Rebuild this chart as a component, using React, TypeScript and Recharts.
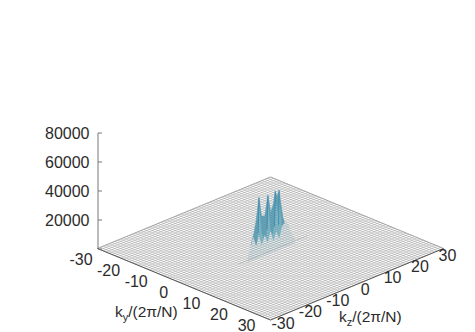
import React from "react";
import { ComposedChart, XAxis, YAxis, Line, Area, Scatter } from "recharts";

const W = 475;
const H = 332;

// Axis ticks
const kTicks = [-30, -20, -10, 0, 10, 20, 30];
const countTicks = [0, 20000, 40000, 60000, 80000];
const yTitle = "y";
const zTitle = "z";

// Mesh lines of the flat floor
const meshK = [
  -30, -29, -28, -27, -26, -25, -24, -23, -22, -21, -20, -19, -18, -17, -16, -15, -14, -13, -12, -11, -10,
  -9, -8, -7, -6, -5, -4, -3, -2, -1, 0, 1, 2, 3, 4, 5, 6, 7, 8, 9, 10, 11, 12, 13, 14, 15, 16, 17, 18, 19,
  20, 21, 22, 23, 24, 25, 26, 27, 28, 29, 30,
];

// Peak silhouette along k_y = 0
const ridgeKz = [-6.8, -5.8, -5, -4, -3.1, -2, -0.9, 0.1, 1, 1.6, 2.3, 2.95, 3.6, 4.3, 5.4, 6.6];
const ridgeCount = [8000, 15000, 23000, 38800, 25000, 24000, 37700, 25000, 30000, 38400, 34000, 38000, 28000, 18000, 10000, 4000];

// Lighter inner faces
const faceKz = [-4.6, -3.9, -3.1, -2.4, -1.4, -0.7, 0, 0.9, 1.9, 2.5, 3.1, 3.8, 4.6];
const faceCount = [9000, 32000, 14000, 9000, 10000, 31000, 12000, 9000, 30000, 22000, 30000, 14000, 7000];

// Dark streaks: [kz, count] pairs
const darkKz = [-4.3, -4.0, -1.2, -0.9, 1.4, 1.7, 2.8, 3.0];
const darkCount = [14000, 38000, 14000, 37000, 14000, 38000, 14000, 37500];

// Pale foot of the peaks
const footKz = [-8, -7, -6, -5, -4, -3, -2, -1, 0, 1, 2, 3, 4, 5, 6, 7, 8.4];
const footCount = [0, 6000, 13000, 6000, 12000, 5000, 11000, 5000, 12000, 4500, 10000, 4500, 12000, 14000, 13000, 6000, 0];

// Faint ridge line on the floor
const streakKz = [-12, 12];
const streakCount = [0, 0];

// Projection of the plot box into the picture
const cx = 270.5;
const cy = 248.5;
const halfW = 173;
const halfH = 71.5;
const zPx = 116 / 80000;

const sxOf = (ky: number, kz: number) => cx + ((ky + kz) / 60) * halfW;
const syOf = (ky: number, kz: number) => cy + ((ky - kz) / 60) * halfH;
const vOfY = (py: number) => (249 - py) / zPx;
const pt = (ky: number, kz: number, c = 0) => ({ sx: sxOf(ky, kz), v: vOfY(syOf(ky, kz)) + c });

const yDomain: [number, number] = [vOfY(H), vOfY(0)];

const FONT = "'Liberation Sans', Arial, sans-serif";
const TXT = "#2b2b2b";

const CountTick = (p: any) => {
  const val = p.payload.value;
  return (
    <g>
      <line x1={98} x2={102} y1={p.y} y2={p.y} stroke="#777" strokeWidth={1} />
      {val > 0 && (
        <text x={89.5} y={p.y + 5.5} textAnchor="end" fontFamily={FONT} fontSize={16} fill={TXT}>
          {val}
        </text>
      )}
    </g>
  );
};

const kyLabels = kTicks.map((k) => ({ sx: 81 + (k + 30) * 2.76, v: vOfY(259 + (k + 30) * 1.1), label: String(k) }));
const kzLabels = kTicks.map((k) => ({ sx: 283 + (k + 30) * 2.74, v: vOfY(323 - (k + 30) * 1.13), label: String(k) }));

const TickText = (p: any) => (
  <text x={p.cx} y={p.cy + 5.5} textAnchor="middle" fontFamily={FONT} fontSize={16} fill={TXT}>
    {p.payload.label}
  </text>
);

const titleShape = (sub: string) => (p: any) => (
  <text x={p.cx} y={p.cy} fontFamily={FONT} fontSize={15.5} fill={TXT}>
    k
    <tspan fontSize={11} dy={4}>{sub}</tspan>
    <tspan dy={-4}>/(2π/N)</tspan>
  </text>
);

const hollow = (kz: number[], count: number[], front: number) =>
  kz.map((z, i) => {
    const top = pt(0, z, count[i]);
    const bottom = pt(front, z);
    return { sx: top.sx, v: [bottom.v, top.v] };
  });

export default function App() {
  const corners = [pt(-30, -30), pt(30, -30), pt(30, 30)];
  const back = [pt(-30, -30), pt(-30, 30), pt(30, 30)];
  return (
    <div style={{ position: "absolute", left: 0, top: 0, width: W, height: H }}>
      <ComposedChart width={W} height={H} margin={{ top: 0, right: 0, bottom: 0, left: 0 }}>
        <XAxis type="number" dataKey="sx" domain={[1, W]} hide allowDataOverflow />
        <YAxis
          type="number"
          dataKey="v"
          domain={yDomain}
          ticks={countTicks}
          width={1}
          axisLine={false}
          tickLine={false}
          tick={CountTick}
          interval={0}
          allowDataOverflow
        />

        {meshK.map((k) => (
          <Line key={"a" + k} data={[pt(k, -30), pt(k, 30)]} dataKey="v" stroke="#777" strokeOpacity={0.36} strokeWidth={1} dot={false} isAnimationActive={false} legendType="none" />
        ))}
        {meshK.map((k) => (
          <Line key={"b" + k} data={[pt(-30, k), pt(30, k)]} dataKey="v" stroke="#777" strokeOpacity={0.36} strokeWidth={1} dot={false} isAnimationActive={false} legendType="none" />
        ))}

        <Line data={back} dataKey="v" stroke="#999" strokeWidth={0.7} dot={false} isAnimationActive={false} />
        <Line data={corners} dataKey="v" stroke="#555" strokeWidth={1} dot={false} isAnimationActive={false} />
        <Line data={[{ sx: 98, v: 0 }, { sx: 98, v: 80000 }]} dataKey="v" stroke="#777" strokeWidth={1} dot={false} isAnimationActive={false} />

        <Line data={streakKz.map((z, i) => pt(1, z, streakCount[i]))} dataKey="v" stroke="#aaa" strokeWidth={0.6} dot={false} isAnimationActive={false} />

        <Area data={hollow(ridgeKz, ridgeCount, 1)} dataKey="v" type="linear" stroke="#5aafcc" strokeWidth={0.5} fill="#5aafcc" fillOpacity={1} dot={false} isAnimationActive={false} />
        <Area data={hollow(faceKz, faceCount, 1)} dataKey="v" type="linear" stroke="none" fill="#7fc8dd" fillOpacity={1} dot={false} isAnimationActive={false} />
        {[0, 2, 4, 6].map((i) => (
          <Line key={"d" + i} data={[pt(0, darkKz[i], darkCount[i]), pt(0, darkKz[i + 1], darkCount[i + 1])]} dataKey="v" stroke="#3f8fb0" strokeWidth={1} dot={false} isAnimationActive={false} />
        ))}
        <Area data={hollow(footKz, footCount, 4)} dataKey="v" type="linear" stroke="none" fill="#e4f2f6" fillOpacity={1} dot={false} isAnimationActive={false} />

        <Scatter data={kyLabels} shape={TickText} isAnimationActive={false} />
        <Scatter data={kzLabels} shape={TickText} isAnimationActive={false} />
        <Scatter data={[{ sx: 115, v: vOfY(317) }]} shape={titleShape(yTitle)} isAnimationActive={false} />
        <Scatter data={[{ sx: 339, v: vOfY(322) }]} shape={titleShape(zTitle)} isAnimationActive={false} />
      </ComposedChart>
    </div>
  );
}
